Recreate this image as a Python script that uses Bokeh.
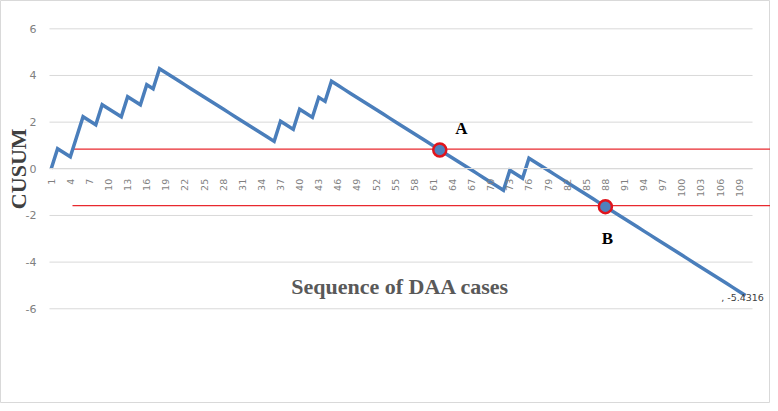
import math
from bokeh.plotting import figure
from bokeh.models import FixedTicker, Label, Range1d
from bokeh.embed import file_html
from bokeh.resources import INLINE

# ---------------- data ----------------
cases = list(range(1, 111))
cusum = [
    0.000, 0.860, 0.687, 0.514, 1.374, 2.234, 2.061, 1.888, 2.748, 2.575,
    2.402, 2.229, 3.089, 2.916, 2.743, 3.603, 3.430, 4.290, 4.117, 3.944,
    3.771, 3.598, 3.425, 3.252, 3.079, 2.906, 2.733, 2.560, 2.387, 2.214,
    2.041, 1.868, 1.695, 1.522, 1.349, 1.176, 2.036, 1.863, 1.690, 2.550,
    2.377, 2.204, 3.064, 2.891, 3.751, 3.578, 3.405, 3.232, 3.059, 2.886,
    2.713, 2.540, 2.367, 2.194, 2.021, 1.848, 1.675, 1.502, 1.329, 1.156,
    0.983, 0.810, 0.637, 0.464, 0.291, 0.118, -0.055, -0.228, -0.401, -0.574,
    -0.747, -0.920, -0.060, -0.233, -0.406, 0.454, 0.281, 0.108, -0.065, -0.238,
    -0.411, -0.584, -0.757, -0.930, -1.103, -1.276, -1.449, -1.622, -1.795, -1.968,
    -2.141, -2.314, -2.487, -2.660, -2.833, -3.006, -3.179, -3.352, -3.525, -3.698,
    -3.871, -4.044, -4.217, -4.390, -4.563, -4.736, -4.909, -5.082, -5.255, -5.4316,
]
y_ticks = [-6, -4, -2, 0, 2, 4, 6]
y_tick_labels = ["-6", "-4", "-2", "0", "2", "4", "6"]
x_ticks = [1, 4, 7, 10, 13, 16, 19, 22, 25, 28, 31, 34, 37, 40, 43, 46, 49, 52,
           55, 58, 61, 64, 67, 70, 73, 76, 79, 82, 85, 88, 91, 94, 97, 100, 103,
           106, 109]
upper_limit = 0.84
lower_limit = -1.58
signal_cases = [62, 88]
signal_names = ["A", "B"]
end_label = ", -5.4316"
x_title = "Sequence of DAA cases"
y_title = "CUSUM"

# plot-area extent (the chart's inner area) inside a full-canvas frame
AREA_X0, AREA_X1 = 0.733, 111.1
AREA_Y0, AREA_Y1 = y_ticks[0], y_ticks[-1]

# ---------------- figure ----------------
p = figure(width=770, height=403, output_backend="svg", toolbar_location=None,
           title=None,
           x_range=Range1d(-6.96, 113.92), y_range=Range1d(-10.06, 7.214),
           min_border=0, min_border_left=0, min_border_right=0,
           min_border_top=0, min_border_bottom=0)
p.outline_line_color = "#d9d9d9"
p.outline_line_width = 1
p.background_fill_color = "white"
p.border_fill_color = "white"
p.xgrid.visible = False
p.ygrid.visible = False

# horizontal gridlines limited to the plot area
p.segment(x0=[AREA_X0] * len(y_ticks), x1=[AREA_X1] * len(y_ticks),
          y0=y_ticks, y1=y_ticks, line_color="#d9d9d9", line_width=1)

# y axis (placed at the plot area's left edge)
p.yaxis.fixed_location = AREA_X0
p.yaxis.bounds = (AREA_Y0, AREA_Y1)
p.yaxis.ticker = FixedTicker(ticks=y_ticks)
p.yaxis.major_label_overrides = {t: l for t, l in zip(y_ticks, y_tick_labels)}
p.yaxis.axis_line_color = None
p.yaxis.major_tick_line_color = None
p.yaxis.minor_tick_line_color = None
p.yaxis.major_label_standoff = 7
p.yaxis.major_label_text_font = "DejaVu Sans"
p.yaxis.major_label_text_font_size = "11px"
p.yaxis.major_label_text_color = "#7f7f7f"

# x axis crossing at 0
p.xaxis.fixed_location = 0
p.xaxis.bounds = (AREA_X0, AREA_X1)
p.xaxis.ticker = FixedTicker(ticks=x_ticks)
p.xaxis.axis_line_color = "#d9d9d9"
p.xaxis.major_tick_line_color = None
p.xaxis.minor_tick_line_color = None
p.xaxis.major_label_orientation = math.pi / 2
p.xaxis.major_label_standoff = 4
p.xaxis.major_label_text_font = "DejaVu Sans"
p.xaxis.major_label_text_font_size = "9.5px"
p.xaxis.major_label_text_color = "#7f7f7f"

# threshold lines (run past the plot area to the chart edge)
p.segment(x0=[4.34, 4.34], x1=[113.92, 113.92], y0=[upper_limit, lower_limit],
          y1=[upper_limit, lower_limit], line_color="#e8292e", line_width=1.2)

# CUSUM line
p.line(cases, cusum, line_color="#4a7ebb", line_width=3.5, line_join="miter")

# signal markers
sig_y = [cusum[c - 1] for c in signal_cases]
p.scatter(signal_cases, sig_y, size=13, fill_color="#4f81bd",
          line_color="#e0141c", line_width=2.5)

# letters A and B
p.add_layout(Label(x=65.4, y=1.73, text=signal_names[0], text_font="Liberation Serif",
                   text_font_style="bold", text_font_size="17px", text_color="black",
                   text_align="center", text_baseline="middle"))
p.add_layout(Label(x=88.3, y=-2.97, text=signal_names[1], text_font="Liberation Serif",
                   text_font_style="bold", text_font_size="17px", text_color="black",
                   text_align="center", text_baseline="middle"))

# end data label
p.add_layout(Label(x=cases[-1], y=cusum[-1], x_offset=-3, y_offset=-2, text=end_label,
                   text_font="DejaVu Sans", text_font_size="9.5px",
                   text_color="#404040", text_align="center", text_baseline="middle"))

# axis titles
p.add_layout(Label(x=55.8, y=-5.05, text=x_title, text_font="Liberation Serif",
                   text_font_style="bold", text_font_size="22px", text_color="#595959",
                   text_align="center", text_baseline="middle"))
p.add_layout(Label(x=-4.2, y=0, text=y_title, angle=math.pi / 2,
                   text_font="Liberation Serif", text_font_style="bold",
                   text_font_size="22px", text_color="#404040",
                   text_align="center", text_baseline="middle"))

open("out.html", "w").write(file_html(p, INLINE))
